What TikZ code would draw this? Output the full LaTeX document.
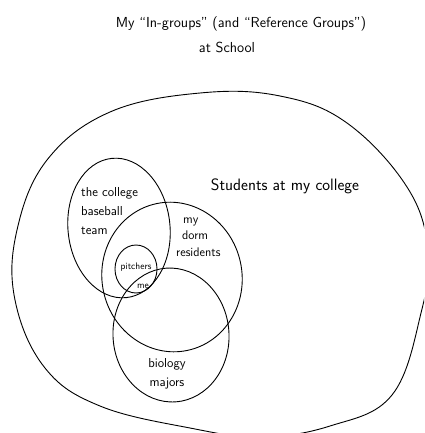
\documentclass[tikz,border=0pt]{standalone}
\usepackage{fontspec}
\begin{document}
\begin{tikzpicture}[x=1pt, y=-1pt,
        hand/.style={line width=0.9pt, black},
        lbl/.style={font=\sffamily\fontsize{13}{19}\selectfont, align=left, inner sep=0pt},
        small/.style={font=\sffamily\fontsize{9.5}{11}\selectfont, inner sep=0pt}]
    \useasboundingbox (0,0) rectangle (424,433);
    % title
    \node[font=\sffamily\fontsize{14.5}{17}\selectfont] (title) at (241,24) {My ``In-groups'' (and ``Reference Groups'')};
    \node[font=\sffamily\fontsize{14.5}{17}\selectfont] (title2) at (227,47) {at School};
    % students at my college
    \begin{scope}
        \clip (0,0) rectangle (424,433);
        \draw[hand] plot[smooth cycle, tension=0.65] coordinates {(200,93) (280,96) (347,123) (407,187) (428,250) (421,313) (392,395) (330,426) (260,437) (190,428) (100,406) (45,368) (15,300) (17,230) (47,160) (110,112)};
    \end{scope}
    \node[font=\sffamily\fontsize{16.5}{19}\selectfont] (students) at (285,186) {Students at my college};
    % baseball team, dorm, biology, pitchers
    \draw[hand, rotate around={6:(119,228)}] (119,228) ellipse (51 and 70);
    \draw[hand, rotate around={12:(172,277)}] (172,277) ellipse (70 and 75);
    \draw[hand, rotate around={4:(171,335)}] (171,335) ellipse (58 and 67);
    \draw[hand] (136,269) ellipse (21 and 24);
    % labels
    \node[lbl, anchor=west] (team) at (81,211) {the college\\baseball\\team};
    \node[lbl, anchor=west, font=\sffamily\fontsize{12.5}{16.5}\selectfont] (dorm) at (176,237) {\hspace{7pt}my\\\hspace{6pt}dorm\\residents};
    \node[small] (pitchers) at (136,267) {pitchers};
    \node[small] (me) at (143,286) {me};
    \node[lbl, align=center] (bio) at (167,374) {biology\\majors};
\end{tikzpicture}
\end{document}
